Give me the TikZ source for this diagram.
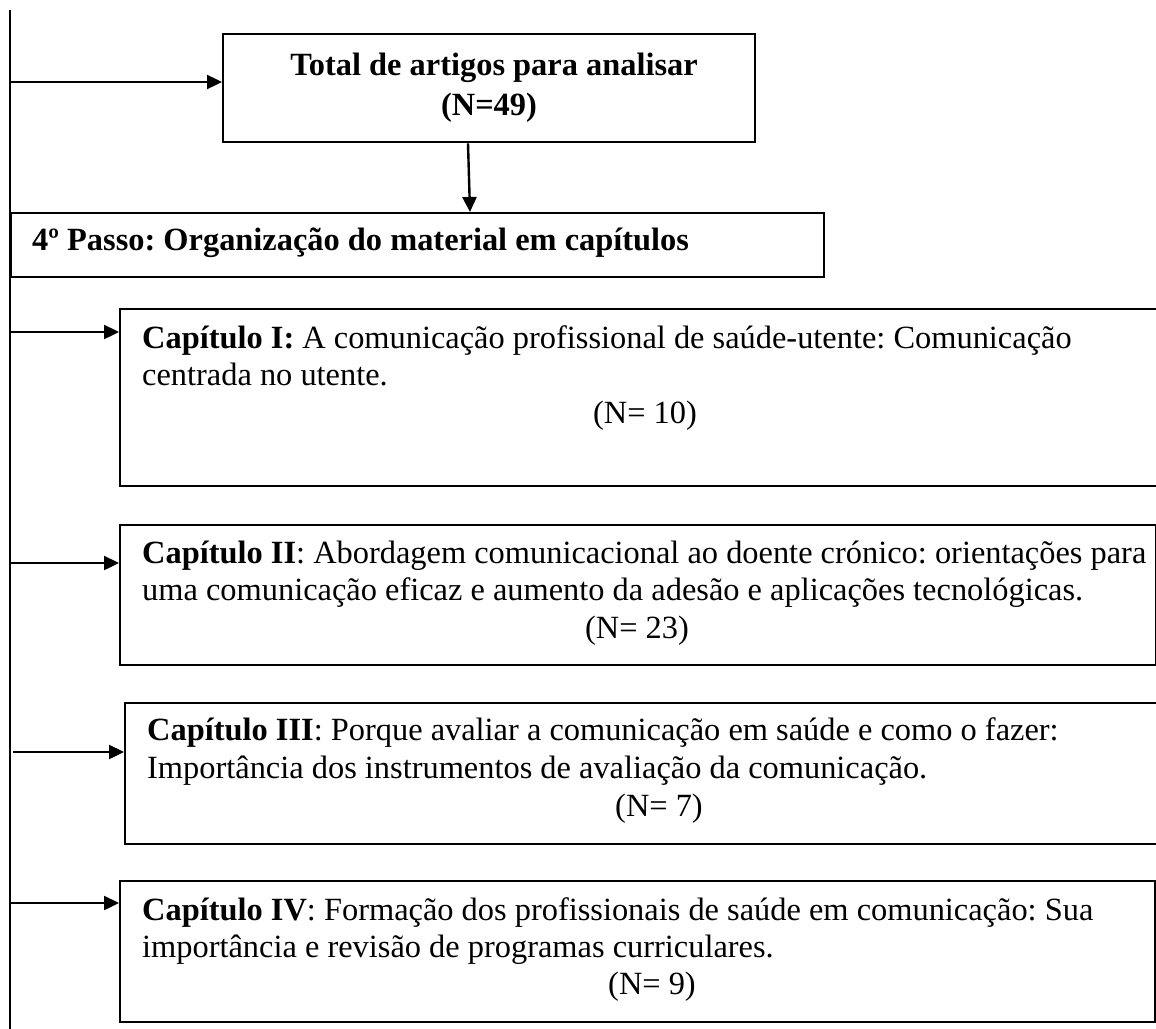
\documentclass[tikz,border=0pt]{standalone}
\usepackage{fontspec}
\setmainfont{Liberation Serif}
\usetikzlibrary{arrows.meta}
\frenchspacing
\begin{document}
\begin{tikzpicture}[x=1pt,y=-1pt,
  box/.style={draw, line width=2.4pt, rectangle, anchor=north west, inner sep=0pt},
  arr/.style={-{Triangle[length=15pt,width=14pt]}, line width=2.4pt},
  txt/.style={font=\fontsize{32.4}{37}\selectfont, inner sep=0pt, anchor=base west},
  ntxt/.style={font=\fontsize{32.4}{37}\selectfont, inner sep=0pt, anchor=base},
  btxt/.style={font=\fontsize{32.4}{37}\selectfont\bfseries, inner sep=0pt, anchor=base}]
\useasboundingbox (0,0) rectangle (1156,1028);
% vertical spine
\coordinate (vtop) at (10,10);
\coordinate (vbot) at (10,1030);
\draw[line width=2.4pt] (vtop) -- (vbot);
% boxes
\node[box, minimum width=532pt, minimum height=108pt] (total) at (222,33) {};
\node[box, minimum width=813pt, minimum height=64pt] (passo) at (10,212) {};
\node[box, minimum width=1060pt, minimum height=177pt] (c1) at (119,308) {};
\node[box, minimum width=1036pt, minimum height=140pt] (c2) at (119,524) {};
\node[box, minimum width=1060pt, minimum height=141pt] (c3) at (124,702) {};
\node[box, minimum width=1035pt, minimum height=141pt] (c4) at (119,880) {};
% texts
\node[btxt] (t1) at (494,75) {Total de artigos para analisar};
\node[btxt] (t2) at (489,115) {(N=49)};
\node[btxt, anchor=base west] (p1) at (32,250) {4º Passo: Organização do material em capítulos};
\node[txt] (c1a) at (142,348) {\textbf{Capítulo I:} A comunicação profissional de saúde-utente: Comunicação};
\node[txt] (c1b) at (142,385) {centrada no utente.};
\node[ntxt] (c1n) at (645,423) {(N= 10)};
\node[txt] (c2a) at (142,563) {\textbf{Capítulo II}: Abordagem comunicacional ao doente crónico: orientações para};
\node[txt] (c2b) at (142,600) {uma comunicação eficaz e aumento da adesão e aplicações tecnológicas.};
\node[ntxt] (c2n) at (637,638) {(N= 23)};
\node[txt] (c3a) at (147,740) {\textbf{Capítulo III}: Porque avaliar a comunicação em saúde e como o fazer:};
\node[txt] (c3b) at (147,778) {Importância dos instrumentos de avaliação da comunicação.};
\node[ntxt] (c3n) at (659,816) {(N= 7)};
\node[txt] (c4a) at (142,920) {\textbf{Capítulo IV}: Formação dos profissionais de saúde em comunicação: Sua};
\node[txt] (c4b) at (142,957) {importância e revisão de programas curriculares.};
\node[ntxt] (c4n) at (652,994) {(N= 9)};
% connectors
\coordinate (s0) at (10,82);
\coordinate (s1) at (10,332);
\coordinate (s2) at (10,563);
\coordinate (s3) at (13,752);
\coordinate (s4) at (10,903);
\coordinate (d0) at (468,0);
\coordinate (d1) at (470,0);
\draw[arr] (d0 |- total.south) -- (d1 |- passo.north);
\draw[arr] (s0) -- (s0 -| total.west);
\draw[arr] (s1) -- (s1 -| c1.west);
\draw[arr] (s2) -- (s2 -| c2.west);
\draw[arr] (s3) -- (s3 -| c3.west);
\draw[arr] (s4) -- (s4 -| c4.west);
\end{tikzpicture}
\end{document}
